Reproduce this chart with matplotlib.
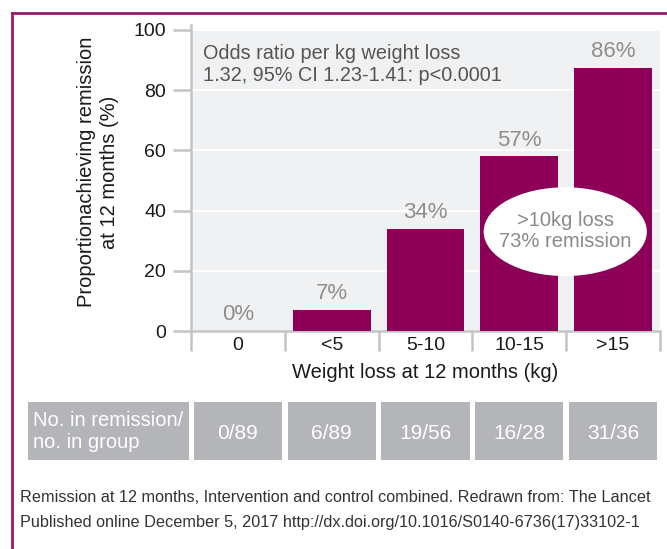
import matplotlib
matplotlib.use("Agg")
import matplotlib.pyplot as plt
from matplotlib.patches import Ellipse, Rectangle
from matplotlib.lines import Line2D

categories = ["0", "<5", "5-10", "10-15", ">15"]
remission_pct = [0, 7, 34, 58, 87.5]   # bar heights as drawn
pct_labels = ["0%", "7%", "34%", "57%", "86%"]
counts = ["0/89", "6/89", "19/56", "16/28", "31/36"]
yticks = [0, 20, 40, 60, 80, 100]

W, H = 667, 549
BAR = "#8c0058"
AXGRAY = "#c4c4c6"
FRAME = "#9c1a6e"
CELL = "#b4b5b8"

plt.rcParams['font.family'] = ['Liberation Sans', 'DejaVu Sans']

fig = plt.figure(figsize=(W / 100, H / 100), dpi=100)


def fx(px):
    return px / W


def fy(py):
    return 1 - py / H


# main axes: x 191..660 px, y 30..331 px
ax = fig.add_axes([fx(191), fy(331), fx(660) - fx(191), fy(30) - fy(331)])
ax.set_facecolor("#f0f1f3")
x = list(range(len(categories)))
ax.bar(x, remission_pct, width=0.83, color=BAR, zorder=3)
ax.set_xlim(-0.5, len(categories) - 0.5)
ax.set_ylim(0, 100)

ax.set_yticks(yticks)
ax.set_yticklabels([str(v) for v in yticks], fontsize=14, color="#1a1a1a")
ax.yaxis.grid(True, color="white", linewidth=1.5, zorder=1)
ax.set_axisbelow(True)

ax.set_xticks(x)
ax.set_xticklabels(categories, fontsize=14, color="#1a1a1a")
ax.set_xticks([i - 0.5 for i in range(len(categories) + 1)], minor=True)
ax.tick_params(axis="x", which="major", length=0, pad=4)
ax.tick_params(axis="x", which="minor", length=14.5, width=1.8, color=AXGRAY)
ax.tick_params(axis="y", length=13, width=1.8, color=AXGRAY, pad=5)

for side in ["top", "right"]:
    ax.spines[side].set_visible(False)
for side in ["left", "bottom"]:
    ax.spines[side].set_color(AXGRAY)
    ax.spines[side].set_linewidth(1.8)
ax.spines["left"].set_bounds(0, 101.5)

for xi, v, lab in zip(x, remission_pct, pct_labels):
    ax.annotate(lab, (xi, v), xytext=(0, 4), textcoords="offset points",
                ha="center", va="bottom", fontsize=16, color="#8e8e8e")

ax.text(0.025, 0.885, "Odds ratio per kg weight loss\n1.32, 95% CI 1.23-1.41: p<0.0001",
        transform=ax.transAxes, ha="left", va="center", fontsize=14.3,
        color="#555555", linespacing=1.25)

ell = Ellipse((3.49, 33), 1.74, 29.5, facecolor="white", edgecolor="none", zorder=4)
ax.add_patch(ell)
ax.text(3.49, 33.3, ">10kg loss\n73% remission", ha="center", va="center",
        fontsize=14.5, color="#8a8a8a", zorder=5, linespacing=1.15)

fig.text(fx(98), fy(172), "Proportionachieving remission\nat 12 months (%)",
         rotation=90, ha="center", va="center", fontsize=14.5, color="#1a1a1a",
         multialignment="center", linespacing=1.3)
fig.text(fx(425), fy(373), "Weight loss at 12 months (kg)", ha="center",
         va="center", fontsize=14.5, color="#1a1a1a")

# table row below the chart, same x geometry as main axes
tab = fig.add_axes([fx(191), fy(460), fx(660) - fx(191), fy(402) - fy(460)])
tab.set_xlim(-0.5, len(categories) - 0.5)
tab.set_ylim(0, 1)
tab.axis("off")
unit = (660 - 191) / len(categories)
gap = 2.8 / unit
tab.add_patch(Rectangle((-0.5 - 163 / unit, 0), (163 - 2) / unit, 1,
                        facecolor=CELL, edgecolor="none", clip_on=False))
tab.text(-0.5 - 158 / unit, 0.5, "No. in remission/\nno. in group", ha="left",
         va="center", fontsize=14.5, color="white", linespacing=1.2)
for xi, c in zip(x, counts):
    tab.add_patch(Rectangle((xi - 0.5 + gap, 0), 1 - 2 * gap, 1,
                            facecolor=CELL, edgecolor="none", clip_on=False))
    tab.text(xi, 0.45, c, ha="center", va="center", fontsize=15, color="white")

foot_font = ['Liberation Sans Narrow', 'Liberation Sans', 'DejaVu Sans']
fig.text(fx(20), fy(497), "Remission at 12 months, Intervention and control combined. Redrawn from: The Lancet",
         ha="left", va="center", fontsize=11.7, color="#333333", family=foot_font)
fig.text(fx(20), fy(522), "Published online December 5, 2017 http://dx.doi.org/10.1016/S0140-6736(17)33102-1",
         ha="left", va="center", fontsize=11.7, color="#333333", family=foot_font)

# magenta frame on top and left
fig.add_artist(Line2D([fx(12), fx(12)], [fy(13), 0], color=FRAME, linewidth=2))
fig.add_artist(Line2D([fx(12), 1], [fy(13), fy(13)], color=FRAME, linewidth=2))

fig.savefig("out.png", dpi=100)
